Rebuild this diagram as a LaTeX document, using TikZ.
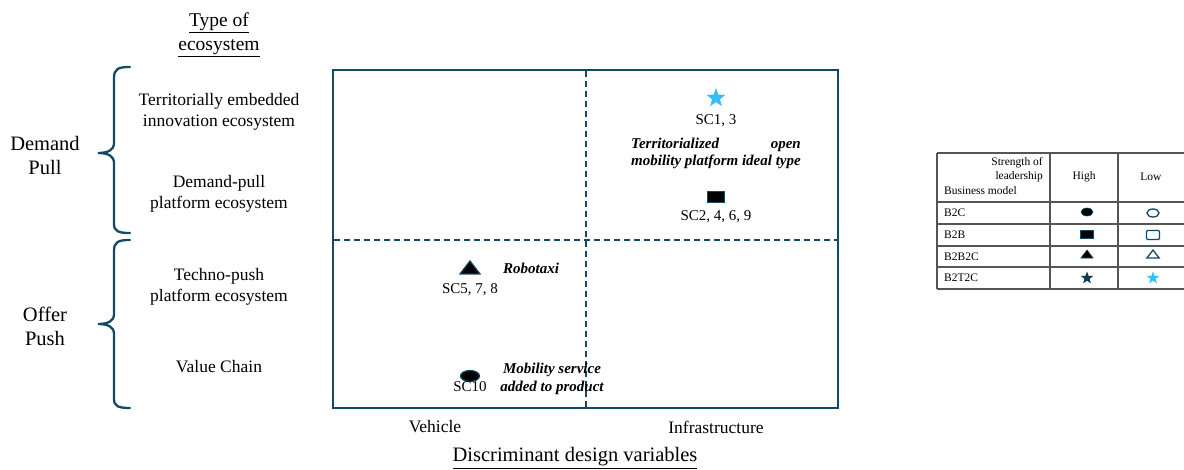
\documentclass[tikz,border=0pt]{standalone}
\usepackage{fontspec}
\setmainfont{Liberation Serif}
\usetikzlibrary{shapes.geometric}
\definecolor{teal1}{HTML}{124A66}
\definecolor{sky}{HTML}{38BDF8}
\definecolor{tgray}{HTML}{555555}
\tikzset{
  lbl/.style={font=\fontsize{17.5}{20.5}\selectfont, align=center, inner sep=0pt},
  side/.style={font=\fontsize{20.5}{24}\selectfont, align=center, inner sep=0pt},
  ital/.style={font=\fontsize{15}{18}\selectfont\bfseries\itshape, inner sep=0pt},
  sc/.style={font=\fontsize{15}{17}\selectfont, inner sep=0pt},
  tb/.style={font=\fontsize{11.5}{14}\selectfont, inner sep=0pt},
  brace/.style={draw=teal1, line width=2.3pt, line cap=round},
  frame/.style={draw=teal1, line width=2pt},
  dline/.style={draw=teal1, line width=1.8pt, dash pattern=on 6pt off 4pt},
  tline/.style={draw=tgray, line width=1.1pt},
  mk/.style={draw=teal1, line width=1.2pt, fill=black, inner sep=0pt},
  mko/.style={draw=teal1, line width=1.3pt, fill=white, inner sep=0pt},
}
\begin{document}
\begin{tikzpicture}[x=1pt,y=-1pt]
\useasboundingbox (0,0) rectangle (1184,470);
% headings
\node[lbl, font=\fontsize{19.5}{24}\selectfont] (h1) at (219,23) {\underline{Type of}};
\node[lbl, font=\fontsize{19.5}{24}\selectfont] (h2) at (219,48) {\underline{ecosystem}};
\node[side] (dp) at (45,155) {Demand\\Pull};
\node[side] (op) at (45,326) {Offer\\Push};
% braces
\draw[brace] (130,67) .. controls (118,67) and (114,69) .. (114,78) -- (114,143) .. controls (114,150) and (108,153) .. (98,153) .. controls (108,153) and (114,156) .. (114,163) -- (114,224) .. controls (114,231) and (118,233) .. (130,233);
\draw[brace] (130,240) .. controls (118,240) and (114,242) .. (114,251) -- (114,314) .. controls (114,321) and (108,324) .. (98,324) .. controls (108,324) and (114,327) .. (114,334) -- (114,399) .. controls (114,406) and (118,408) .. (130,408);
% left labels
\node[lbl] (t1) at (219,112) {Territorially embedded\\innovation ecosystem};
\node[lbl] (t2) at (219,194) {Demand-pull\\platform ecosystem};
\node[lbl] (t3) at (219,287) {Techno-push\\platform ecosystem};
\node[lbl] (t4) at (219,367) {Value Chain};
% frame
\draw[frame] (333,70) rectangle (838,408);
\draw[dline] (586,71) -- (586,407);
\draw[dline] (334,240) -- (837,240);
% axis labels
\node[lbl] (v) at (435,427) {Vehicle};
\node[lbl] (inf) at (716,427) {Infrastructure};
\node[lbl, font=\fontsize{20.5}{24}\selectfont] (dd) at (575,458) {\underline{Discriminant design variables}};
% markers in chart
\node[star, star points=5, star point ratio=2.4, minimum size=20pt, fill=sky, draw=none, inner sep=0pt] (s1) at (716,98) {};
\node[sc] (s1l) at (716,121) {SC1, 3};
\node[ital] (ti) at (716,154) {\renewcommand\arraystretch{0.95}\begin{tabular}{@{}l@{}}Territorialized\hfill open\\mobility platform ideal type\end{tabular}};
\node[mk, rectangle, minimum width=17pt, minimum height=11pt] (r1) at (716,197) {};
\node[sc] (r1l) at (716,217) {SC2, 4, 6, 9};
\node[mk, isosceles triangle, isosceles triangle apex angle=75, shape border rotate=90, minimum width=19pt, minimum height=13pt] (tr) at (470,269) {};
\node[sc] (trl) at (470,290) {SC5, 7, 8};
\node[ital] (rb) at (531,268) {Robotaxi};
\node[mk, ellipse, minimum width=19pt, minimum height=11pt] (el) at (470,376) {};
\node[sc] (ell) at (470,387) {SC10};
\node[ital, align=center] (ms) at (552,379) {Mobility service\\added to product};
% table
\draw[tline] (937,153) -- (1190,153);
\draw[tline] (937,202) -- (1190,202);
\draw[tline] (937,224) -- (1190,224);
\draw[tline] (937,246) -- (1190,246);
\draw[tline] (937,267) -- (1190,267);
\draw[tline] (937,289) -- (1190,289);
\draw[tline] (937,153) -- (937,289);
\draw[tline] (1050,153) -- (1050,289);
\draw[tline] (1118,153) -- (1118,289);
\node[tb, anchor=east] (sh1) at (1043,163) {Strength of};
\node[tb, anchor=east] (sh2) at (1043,177) {leadership};
\node[tb, anchor=west] (bm) at (944,191) {Business model};
\node[tb] (hi) at (1084,177) {High};
\node[tb] (lo) at (1151,177) {Low};
\node[tb, anchor=west] (b2c) at (944,213) {B2C};
\node[tb, anchor=west] (b2b) at (944,235) {B2B};
\node[tb, anchor=west] (b2b2c) at (944,256.5) {B2B2C};
\node[tb, anchor=west] (b2t2c) at (944,278) {B2T2C};
\node[mk, ellipse, minimum width=12pt, minimum height=8pt, line width=0.6pt] (e1) at (1087,212) {};
\node[mko, ellipse, minimum width=12pt, minimum height=8pt] (e2) at (1153,213) {};
\node[mk, rectangle, minimum width=13pt, minimum height=8pt, line width=0.6pt] (q1) at (1087,234) {};
\node[mko, rectangle, rounded corners=1pt, minimum width=13pt, minimum height=9pt] (q2) at (1153,235) {};
\node[mk, isosceles triangle, isosceles triangle apex angle=75, shape border rotate=90, minimum width=12pt, minimum height=8pt, line width=0.6pt] (g1) at (1087,255) {};
\node[mko, isosceles triangle, isosceles triangle apex angle=75, shape border rotate=90, minimum width=11pt, minimum height=8pt] (g2) at (1153,255) {};
\node[star, star points=5, star point ratio=2.4, minimum size=13pt, fill=teal1!80!black, inner sep=0pt] (st1) at (1087,278) {};
\node[star, star points=5, star point ratio=2.4, minimum size=13pt, fill=sky, inner sep=0pt] (st2) at (1153,278) {};
\end{tikzpicture}
\end{document}
